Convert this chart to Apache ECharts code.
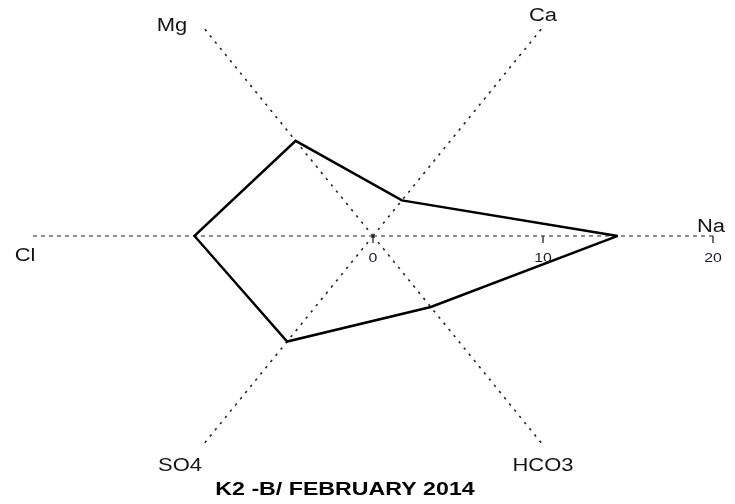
<!DOCTYPE html>
<html>
<head>
<meta charset="utf-8">
<script src="https://cdn.jsdelivr.net/npm/echarts@6/dist/echarts.min.js"></script>
<style>
  html, body { margin: 0; padding: 0; background: #fff; }
  #chart { width: 735px; height: 504px; }
</style>
</head>
<body>
<div id="chart"></div>
<script>
// Ion star diagram: one spoke per major ion, concentration along each spoke.
const ions = ['Na', 'Ca', 'Mg', 'Cl', 'SO4', 'HCO3'];
const spokeAngles = [0, 60, 120, 180, 240, 300];   // degrees, counter-clockwise from Na
const ionValues = [14.4, 3.4, 9.1, 10.5, 10.1, 6.8];
const scaleTicks = [0, 10, 20];
const spokeLength = 20;
const chartTitle = 'K2 -B/ FEBRUARY 2014';

const FONT = '"Liberation Sans", Arial, Helvetica, sans-serif';
const TEXT_STRETCH = 1.22;

const rad = d => d * Math.PI / 180;
const polar = (r, deg) => [r * Math.cos(rad(deg)), r * Math.sin(rad(deg))];

// Pixel offsets of each ion name from the outer end of its spoke
const nameOffsets = [[-2, -9], [0, -11], [-31, -1], [-8, 20], [-23, 21], [0, 21]];

const spokeData = spokeAngles.map((a, i) => polar(spokeLength, a).concat(i));
const outline = ionValues.map((v, i) => polar(v, spokeAngles[i]));
outline.push(outline[0]);

const chart = echarts.init(document.getElementById('chart'), null, { renderer: 'canvas' });

chart.setOption({
  animation: false,
  backgroundColor: '#ffffff',
  grid: { left: 33, width: 680, top: 18.7, height: 434.5 },
  xAxis: { type: 'value', min: -20, max: 20, show: false },
  yAxis: { type: 'value', min: -18, max: 18, show: false },
  graphic: [{
    type: 'text',
    x: 345, y: 490,
    scaleX: TEXT_STRETCH,
    style: {
      text: chartTitle,
      font: 'bold 19px ' + FONT,
      fill: '#000',
      align: 'center',
      verticalAlign: 'middle'
    }
  }],
  series: [
    {
      // spokes from the centre to the end of each ion axis
      type: 'custom',
      coordinateSystem: 'cartesian2d',
      silent: true,
      z: 1,
      data: spokeData,
      renderItem: function (params, api) {
        const o = api.coord([0, 0]);
        const e = api.coord([api.value(0), api.value(1)]);
        const idx = api.value(2);
        const horizontal = spokeAngles[idx] % 180 === 0;
        return {
          type: 'line',
          shape: { x1: o[0], y1: o[1], x2: e[0], y2: e[1] },
          style: {
            stroke: horizontal ? '#333' : '#222',
            lineWidth: horizontal ? 1.1 : 1.6,
            lineDash: horizontal ? [4, 4] : [2.4, 5.6]
          }
        };
      }
    },
    {
      // scale ticks and numbers along the Na spoke
      type: 'custom',
      coordinateSystem: 'cartesian2d',
      silent: true,
      z: 2,
      data: scaleTicks.map(v => [v, 0]),
      renderItem: function (params, api) {
        const p = api.coord([api.value(0), api.value(1)]);
        return {
          type: 'group',
          children: [
            {
              type: 'line',
              shape: { x1: p[0], y1: p[1], x2: p[0], y2: p[1] + 7 },
              style: { stroke: '#222', lineWidth: 1.3 }
            },
            {
              type: 'text',
              x: p[0], y: p[1] + 22,
              scaleX: TEXT_STRETCH,
              style: {
                text: String(api.value(0)),
                font: '13px ' + FONT,
                fill: '#1a1a2a',
                align: 'center',
                verticalAlign: 'middle'
              }
            }
          ]
        };
      }
    },
    {
      // ion names at the spoke ends
      type: 'custom',
      coordinateSystem: 'cartesian2d',
      silent: true,
      z: 3,
      data: spokeData,
      renderItem: function (params, api) {
        const e = api.coord([api.value(0), api.value(1)]);
        const idx = api.value(2);
        const off = nameOffsets[idx];
        return {
          type: 'text',
          x: e[0] + off[0], y: e[1] + off[1],
          scaleX: TEXT_STRETCH,
          style: {
            text: ions[idx],
            font: '18px ' + FONT,
            fill: '#141414',
            align: 'center',
            verticalAlign: 'middle'
          }
        };
      }
    },
    {
      // concentration outline
      type: 'line',
      data: outline,
      symbol: 'none',
      silent: true,
      z: 4,
      lineStyle: { color: '#000', width: 2.5, join: 'miter' }
    }
  ]
});
</script>
</body>
</html>
